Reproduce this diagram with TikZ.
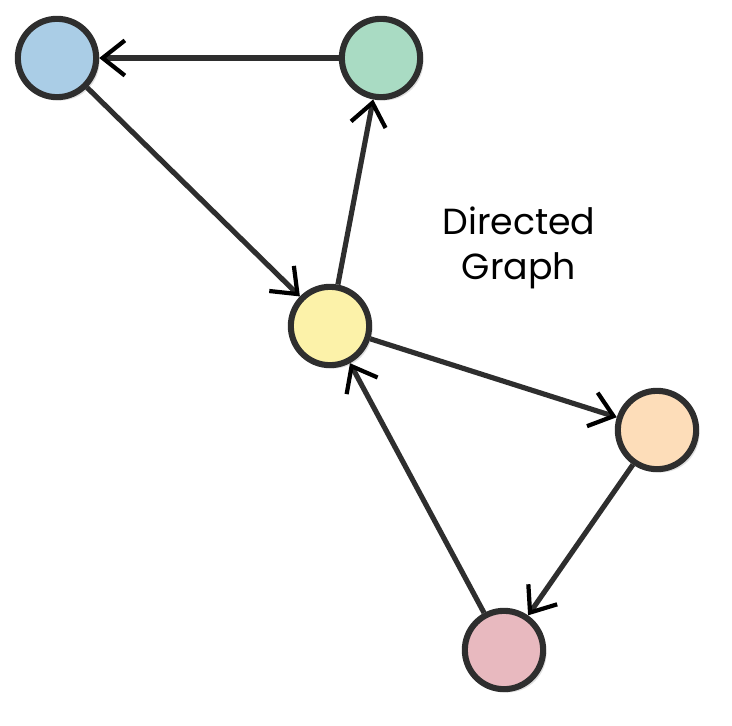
\documentclass[tikz,border=0pt]{standalone}
\usepackage{fontspec}
\setmainfont{Poppins}
\usetikzlibrary{arrows.meta,shadows}
\definecolor{cblu}{HTML}{AACDE6}
\definecolor{cgrn}{HTML}{A9DBC3}
\definecolor{cyel}{HTML}{FCF2A9}
\definecolor{corg}{HTML}{FDDDB9}
\definecolor{cpnk}{HTML}{E8B9BF}
\definecolor{ink}{HTML}{2E2E2E}
\tikzset{vtx/.style={circle,draw=ink,line width=5.2pt,minimum size=2.35cm,inner sep=0pt,drop shadow={opacity=.25,shadow xshift=.1cm,shadow yshift=-.1cm}},
edg/.style={draw=ink,line width=4.4pt,-{Straight Barb[length=19pt,width=30pt,line width=3.6pt,color=black]}}}
\begin{document}
\begin{tikzpicture}[x=.03cm,y=-.03cm]
\useasboundingbox(0,0)rectangle(732,725);
% vertices
\node[vtx,fill=cblu](blu)at(57,58){};\node[vtx,fill=cgrn](grn)at(381,58){};\node[vtx,fill=cyel](yel)at(330,326){};
\node[vtx,fill=corg](org)at(657,430){};\node[vtx,fill=cpnk](pnk)at(504,650){};
\node[align=center,font=\fontsize{31}{38}\selectfont](lbl)at(519,248){Directed\\Graph};
% edges
\draw[edg](grn)--(blu);\draw[edg](blu)--(yel);\draw[edg](yel)--(grn);
\draw[edg](yel)--(org);\draw[edg](org)--(pnk);\draw[edg](pnk)--(yel);
\end{tikzpicture}
\end{document}
